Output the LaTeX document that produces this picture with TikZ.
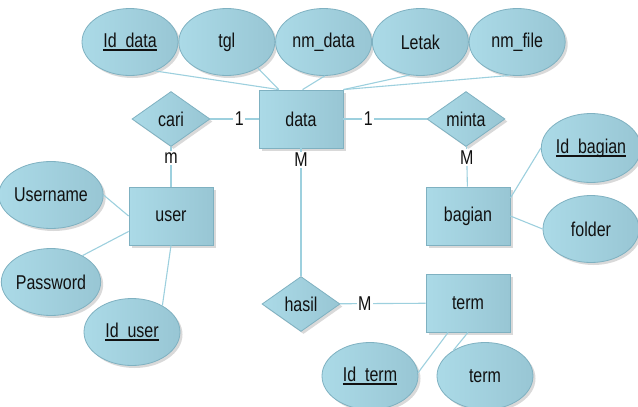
\documentclass[tikz,border=0pt]{standalone}
\usepackage{fontspec}
\setmainfont{Liberation Sans}[FakeStretch=0.8]
\usetikzlibrary{positioning,shapes.geometric,shadows}
\definecolor{SkyTop}{HTML}{ABDAE7}
\definecolor{SkyFill}{HTML}{98C6D4}
\definecolor{SkyEdge}{HTML}{7FB1C1}
\definecolor{Link}{HTML}{9DD0DE}
\definecolor{Ink}{HTML}{111111}
\newcommand{\keyattr}[1]{\setbox0\hbox{#1}\rlap{\rule[-4pt]{\wd0}{2pt}}\box0}
\tikzset{
  erbase/.style={draw=SkyEdge,line width=0.8pt,left color=SkyTop,right color=SkyFill,text=Ink,font=\fontsize{20}{24}\selectfont,inner sep=0pt,drop shadow={shadow xshift=2.5pt,shadow yshift=-2.5pt,fill=black,opacity=0.15}},
  entity/.style={erbase,rectangle,minimum width=84pt,minimum height=58pt},
  attr/.style={erbase,ellipse,minimum width=96pt,minimum height=67pt},
  rel/.style={erbase,diamond,minimum width=78pt,minimum height=55pt},
  link/.style={draw=Link,line width=1.1pt},
  card/.style={fill=white,inner sep=1.5pt,font=\fontsize{20}{24}\selectfont,text=Ink}
}
\begin{document}
\begin{tikzpicture}[x=1pt,y=-1pt,node distance=0pt]
  \useasboundingbox (0,0) rectangle (638,407);
  % attributes of data
  \node[attr] (iddata) at (130,42) {\keyattr{Id\_data}};
  \node[attr,right=of iddata] (tgl) {tgl};
  \node[attr,right=of tgl] (nmdata) {nm\_data};
  \node[attr,right=of nmdata] (letak) {Letak};
  \node[attr,right=of letak] (nmfile) {nm\_file};
  % entities and relations
  \node[entity] (data) at (301,119) {data};
  \node[rel] (cari) at (171,119) {cari};
  \node[rel] (minta) at (466,119) {minta};
  \node[entity] (user) at (171,216) {user};
  \node[entity] (bagian) at (468,216) {bagian};
  \node[rel] (hasil) at (301,304) {hasil};
  \node[entity] (term) at (468,303) {term};
  % other attributes
  \node[attr] (username) at (51,195) {Username};
  \node[attr] (password) at (51,282) {Password};
  \node[attr] (iduser) at (132,332) {\keyattr{Id\_user}};
  \node[attr,minimum height=69pt] (idbagian) at (591,148) {\keyattr{Id\_bagian}};
  \node[attr] (folder) at (591,229) {folder};
  \node[attr] (idterm) at (370,376) {\keyattr{Id\_term}};
  \node[attr] (termattr) at (485,376) {term};

  \draw[link] (iddata.311) -- (data.127);
  \draw[link] (tgl.320) -- (data.127);
  \draw[link] (nmdata.272) -- (data.87);
  \draw[link] (letak.252) -- (data.north east);
  \draw[link] (nmfile.257) -- (data.north east);
  \draw[link] (cari) -- node[card,pos=0.6] {1} (data);
  \draw[link] (data) -- node[card,pos=0.3] {1} (minta);
  \draw[link] (cari) -- node[card,pos=0.27] {m} (user);
  \draw[link] (minta) -- node[card,pos=0.27] {M} (bagian);
  \draw[link] (data) -- node[card,pos=0.09] {M} (hasil);
  \draw[link] (hasil) -- node[card,pos=0.29] {M} (term);
  \draw[link] (username.east) -- (user.west);
  \draw[link] (password.40) -- (user.200);
  \draw[link] (iduser.41) -- (user.south);
  \draw[link] (bagian.23) -- (idbagian.west);
  \draw[link] (bagian.east) -- (folder.west);
  \draw[link] (term.236) -- (idterm.4);
  \draw[link] (term.south) -- (termattr.141);
\end{tikzpicture}
\end{document}
